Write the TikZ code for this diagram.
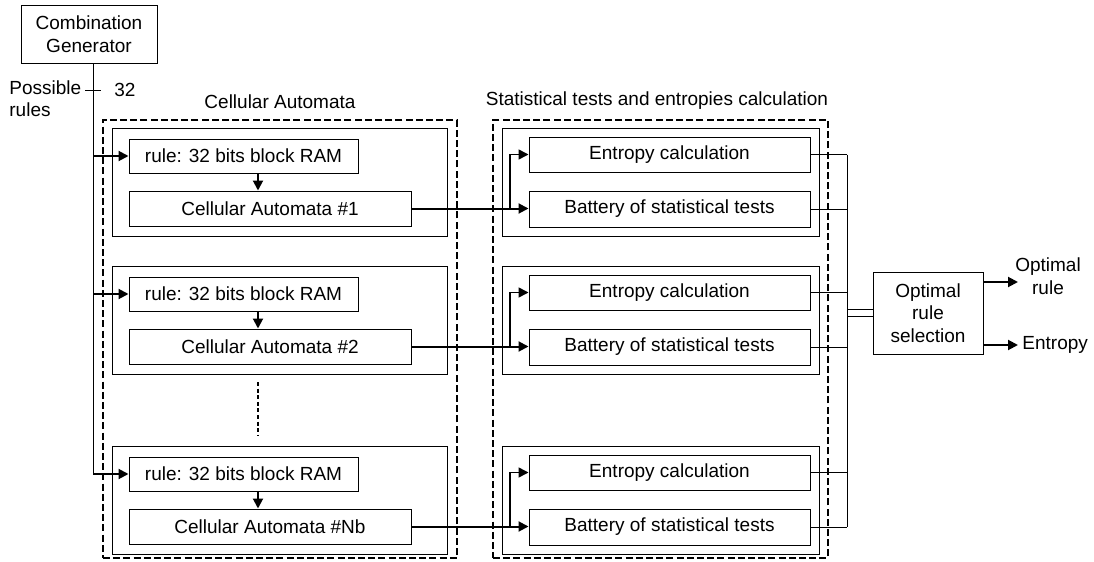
\documentclass[tikz,border=0pt]{standalone}
\usepackage{fontspec}
\setmainfont{Liberation Sans}
\usetikzlibrary{fit,arrows.meta}
\begin{document}
\begin{tikzpicture}[x=0.5pt,y=-0.5pt,
  txt/.style={font=\fontsize{9.5}{11.3}\selectfont, inner sep=0pt},
  box/.style={draw, line width=0.5pt, inner sep=0pt, label={[txt,align=center]center:#1}},
  blk/.style={draw, line width=0.5pt, inner sep=0pt},
  grp/.style={draw, line width=1pt, inner sep=0pt, dash pattern=on 3.5pt off 1.6pt},
  arr/.style={line width=1pt, -{Triangle[length=5pt,width=5pt]}},
  wire/.style={line width=0.5pt},
  dotline/.style={line width=1pt, dash pattern=on 2pt off 1.3pt}]
\useasboundingbox (0,0) rectangle (1094,562);
% generator
\node[box={Combination\\Generator}, fit={(21,5) (157,63)}] (gen) {};
\coordinate (trunk) at (93,63);
\coordinate (dcol) at (258,0);
\coordinate (brx) at (510,0);
\coordinate (bus) at (847,0);
\node[txt, anchor=north west, align=left] (poss) at (9,80) {Possible\\rules};
\node[txt, anchor=west] (n32) at (114,90) {32};
\coordinate (tk1) at (85,90);
\coordinate (tk2) at (101,90);
\draw[wire] (tk1) -- (tk2);
% group boxes
\node[grp, fit={(103,120) (457,558)}] (cagrp) {};
\node[grp, fit={(493,120) (828,558)}] (stgrp) {};
\node[txt] (catitle) at (280,102) {Cellular Automata};
\node[txt] (sttitle) at (657,101) {Statistical tests and entropies calculation};
% blocks
\foreach \i/\d/\lab in {1/0/1,2/138/2,3/318/Nb}{
  \node[blk, fit={(112,{128+\d}) (447,{236+\d})}] (cab\i) {};
  \node[box={rule: 32 bits block RAM}, fit={(129,{139+\d}) (358,{173+\d})}] (rule\i) {};
  \node[box={Cellular Automata \#\lab}, fit={(129,{191+\d}) (411,{226+\d})}] (ca\i) {};
  \node[blk, fit={(502,{128+\d}) (819,{236+\d})}] (stb\i) {};
  \node[box={Entropy calculation}, fit={(529,{137+\d}) (810,{172+\d})}] (ent\i) {};
  \node[box={Battery of statistical tests}, fit={(529,{191+\d}) (810,{227+\d})}] (bat\i) {};
  \draw[arr] (rule\i.west -| trunk) -- (rule\i.west);
  \draw[arr] (rule\i.south -| dcol) -- (ca\i.north -| dcol);
  \draw[arr] (ca\i.east) -- (ca\i.east -| bat\i.west);
  \draw[arr, line width=0.8pt] (ca\i.east -| brx) |- (ent\i.west);
  \draw[wire] (ent\i.east) -- (ent\i.east -| bus);
  \draw[wire] (bat\i.east) -- (bat\i.east -| bus);
}
\draw[wire] (gen.south -| trunk) -- (rule3.west -| trunk);
\draw[dotline] (258,382) -- (258,436);
\draw[wire] (ent1.east -| bus) -- (bat3.east -| bus);
% selection
\node[box={Optimal\\rule\\selection}, fit={(873,272) (983,354)}] (sel) {};
\draw[wire] (bus |- 0,309) -- (sel.west |- 0,309);
\draw[wire] (bus |- 0,316) -- (sel.west |- 0,316);
\coordinate (o1) at (1018,282);
\coordinate (o2) at (1018,345);
\draw[arr] (sel.east |- o1) -- (o1);
\draw[arr] (sel.east |- o2) -- (o2);
\node[txt, align=center] (optl) at (1048,276) {Optimal\\rule};
\node[txt, anchor=west] (entl) at (1022,345) {Entropy};
\end{tikzpicture}
\end{document}
